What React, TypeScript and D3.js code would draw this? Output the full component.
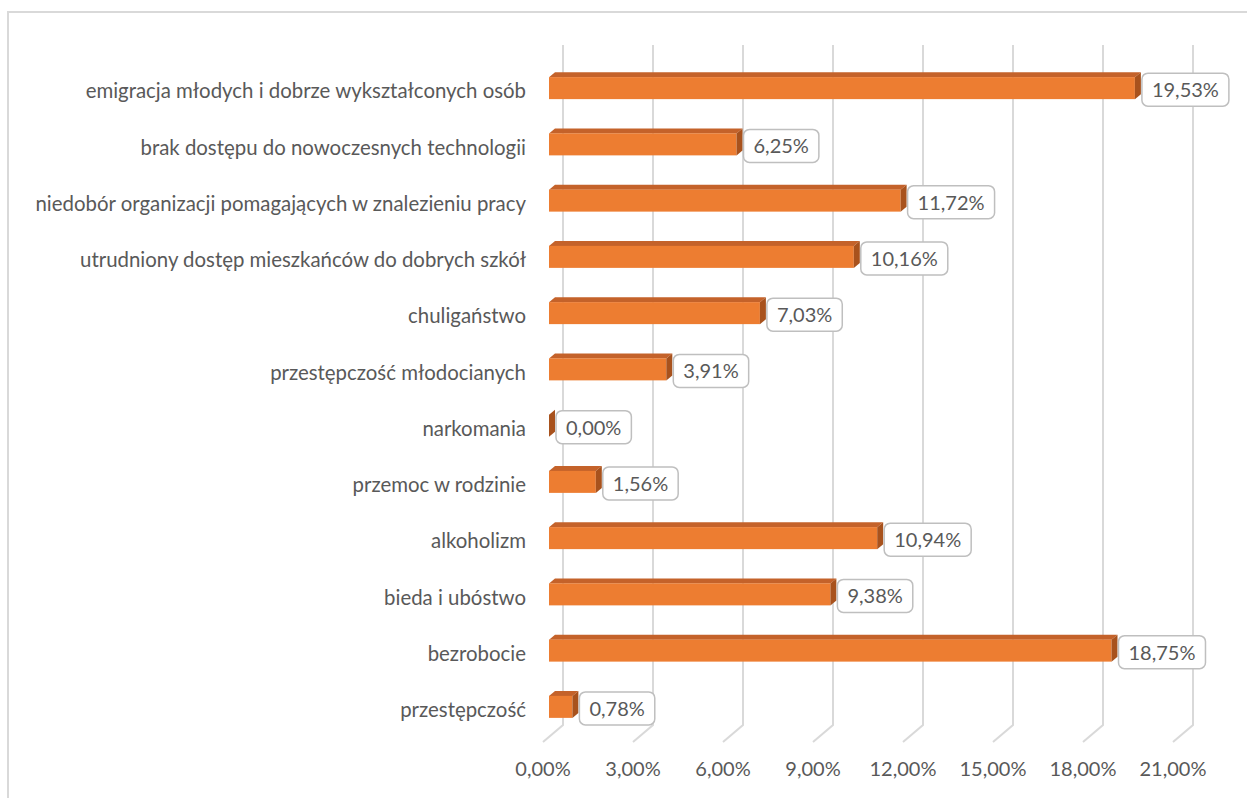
import { useEffect, useRef } from "react";
import * as d3 from "d3";

const categories = [
  "emigracja młodych i dobrze wykształconych osób",
  "brak dostępu do nowoczesnych technologii",
  "niedobór organizacji pomagających w znalezieniu pracy",
  "utrudniony dostęp mieszkańców do dobrych szkół",
  "chuligaństwo",
  "przestępczość młodocianych",
  "narkomania",
  "przemoc w rodzinie",
  "alkoholizm",
  "bieda i ubóstwo",
  "bezrobocie",
  "przestępczość",
];

const values = [19.53, 6.25, 11.72, 10.16, 7.03, 3.91, 0.0, 1.56, 10.94, 9.38, 18.75, 0.78];

const ticks = [0, 3, 6, 9, 12, 15, 18, 21];

const WIDTH = 1247;
const HEIGHT = 798;

const fmt = (v: number) => v.toFixed(2).replace(".", ",") + "%";

export default function App() {
  const svgRef = useRef<SVGSVGElement>(null);

  useEffect(() => {
    if (!svgRef.current) return;
    const root = d3.select(svgRef.current);
    root.selectAll("*").remove();

    const font = "Lato, 'Open Sans', sans-serif";
    const textColor = "#595959";

    // 3D depth: back wall offset and bar offsets
    const wall = { dx: 20, dy: -17 };
    const barFront = { dx: 6, dy: 0 };
    const barDepth = { dx: 6, dy: -5 };

    const x = d3.scaleLinear().domain([0, 21]).range([543, 543 + 7 * 90]);
    const y = d3.scaleBand().domain(categories).range([60, 735]).padding(0);
    const barH = 22;
    const floorY = 742;
    const topY = 45;

    // chart area border
    root
      .append("rect")
      .attr("x", 8)
      .attr("y", 12)
      .attr("width", 1400)
      .attr("height", 1000)
      .attr("fill", "#fff")
      .attr("stroke", "#d9d9d9")
      .attr("stroke-width", 2);

    // gridlines: back wall + floor diagonal
    const grid = root.append("g");
    ticks.forEach((t) => {
      const fx = x(t);
      const bx = fx + wall.dx;
      const by = floorY + wall.dy;
      grid
        .append("path")
        .attr("d", `M${bx},${topY}L${bx},${by}L${fx},${floorY}`)
        .attr("fill", "none")
        .attr("stroke", "#d9d9d9")
        .attr("stroke-width", 2);
    });

    // x axis labels
    root
      .append("g")
      .selectAll("text")
      .data(ticks)
      .enter()
      .append("text")
      .attr("x", (d) => x(d))
      .attr("y", 769)
      .attr("dy", "0.35em")
      .attr("text-anchor", "middle")
      .attr("fill", textColor)
      .style("font-family", font)
      .style("font-size", "20px")
      .text((d) => fmt(d));

    // category labels
    root
      .append("g")
      .selectAll("text")
      .data(categories)
      .enter()
      .append("text")
      .attr("x", 526)
      .attr("y", (d) => (y(d) || 0) + y.bandwidth() / 2 + 3)
      .attr("dy", "0.35em")
      .attr("text-anchor", "end")
      .attr("fill", textColor)
      .style("font-family", font)
      .style("font-size", "20.4px")
      .text((d) => d);

    // bars
    const data = categories.map((c, i) => ({ c, v: values[i] }));
    const bars = root.append("g");
    data.forEach((d) => {
      const cy = (y(d.c) || 0) + y.bandwidth() / 2;
      const y0 = cy - barH / 2;
      const y1 = cy + barH / 2;
      const x0 = x(0) + barFront.dx;
      const x1 = x(d.v) + barFront.dx;
      const { dx, dy } = barDepth;
      // top face
      bars
        .append("path")
        .attr("d", `M${x0},${y0}L${x0 + dx},${y0 + dy}L${x1 + dx},${y0 + dy}L${x1},${y0}Z`)
        .attr("fill", "#c4622a");
      // front face
      bars
        .append("rect")
        .attr("x", x0)
        .attr("y", y0)
        .attr("width", x1 - x0)
        .attr("height", barH)
        .attr("fill", "#ed7d31");
      // side face
      bars
        .append("path")
        .attr("d", `M${x1},${y0}L${x1 + dx},${y0 + dy}L${x1 + dx},${y1 + dy}L${x1},${y1}Z`)
        .attr("fill", "#a8521d");
    });

    // data labels
    const labels = root.append("g");
    data.forEach((d) => {
      const cy = (y(d.c) || 0) + y.bandwidth() / 2;
      const left = x(d.v) + barFront.dx + barDepth.dx + 1;
      const g = labels.append("g");
      const rect = g.append("rect");
      const text = g
        .append("text")
        .attr("x", left + 10)
        .attr("y", cy + 2)
        .attr("dy", "0.35em")
        .attr("fill", textColor)
        .style("font-family", font)
        .style("font-size", "20px")
        .text(fmt(d.v));
      const w = (text.node() as SVGTextElement).getComputedTextLength();
      rect
        .attr("x", left)
        .attr("y", cy - 15)
        .attr("width", w + 20)
        .attr("height", 33)
        .attr("rx", 6)
        .attr("fill", "#fff")
        .attr("stroke", "#bfbfbf")
        .attr("stroke-width", 1.5);
    });
  }, []);

  return (
    <svg
      ref={svgRef}
      width={WIDTH}
      height={HEIGHT}
      style={{ position: "absolute", left: 0, top: 0, background: "#fff" }}
    />
  );
}
